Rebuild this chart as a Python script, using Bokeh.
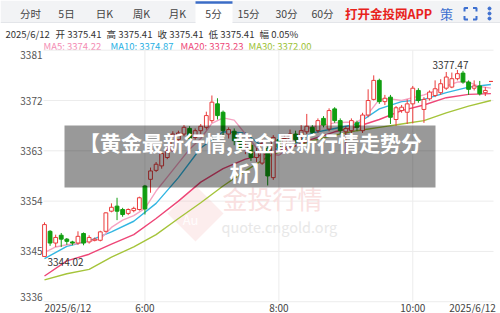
from bokeh.plotting import figure
from bokeh.models import Range1d, ColumnDataSource
from bokeh.core.properties import value
from bokeh.embed import file_html
from bokeh.resources import INLINE

FONT = "Noto Sans CJK SC"

# ---------------- data ----------------
opens = [3344.10, 3348.60, 3346.50, 3347.90, 3347.20, 3346.70, 3346.50, 3348.20, 3346.70, 3347.00,
         3347.00, 3348.60, 3352.20, 3353.10, 3352.50, 3351.80, 3352.30, 3352.50, 3356.70, 3357.90,
         3359.50, 3360.30, 3361.80, 3363.00, 3365.00, 3366.00, 3367.00, 3365.40, 3366.60, 3367.20,
         3368.40, 3371.40, 3369.90, 3366.00, 3366.50, 3365.00, 3363.20, 3364.00, 3361.80, 3360.80,
         3363.40, 3358.20, 3365.00, 3363.60, 3365.00, 3366.00, 3365.60, 3366.40, 3367.20, 3366.60,
         3368.80, 3366.90, 3370.50, 3368.40, 3366.40, 3366.60, 3368.00, 3366.60, 3369.40, 3372.20,
         3375.60, 3371.80, 3372.60, 3368.60, 3370.20, 3369.90, 3371.40, 3373.80, 3370.40, 3372.30,
         3372.90, 3373.40, 3374.20, 3374.40, 3375.90, 3376.90, 3375.30, 3374.20, 3374.60, 3373.40,
         3375.41]
highs = [3350.20, 3348.80, 3348.00, 3348.30, 3347.40, 3346.90, 3348.60, 3348.40, 3347.90, 3347.50,
         3348.70, 3352.00, 3353.60, 3354.60, 3352.80, 3352.70, 3353.00, 3354.80, 3356.90, 3360.00,
         3361.00, 3362.80, 3364.00, 3366.50, 3366.60, 3367.60, 3367.40, 3367.00, 3367.80, 3370.00,
         3372.90, 3372.40, 3370.20, 3367.20, 3367.00, 3365.60, 3364.60, 3364.50, 3363.50, 3365.00,
         3364.00, 3365.80, 3366.00, 3365.80, 3366.80, 3366.60, 3367.60, 3369.60, 3367.60, 3368.80,
         3369.20, 3370.60, 3370.80, 3368.80, 3367.40, 3368.80, 3368.40, 3369.80, 3374.00, 3376.50,
         3375.90, 3373.00, 3373.00, 3371.00, 3371.20, 3372.20, 3374.60, 3374.20, 3372.60, 3373.80,
         3375.60, 3375.80, 3377.10, 3377.00, 3377.47, 3377.30, 3375.60, 3375.60, 3375.50, 3374.40,
         3375.41]
lows = [3344.02, 3346.00, 3345.80, 3345.80, 3346.20, 3346.10, 3346.20, 3346.10, 3346.40, 3346.80,
        3346.80, 3348.40, 3352.00, 3350.60, 3351.20, 3351.50, 3352.00, 3352.30, 3351.60, 3355.50,
        3359.20, 3359.80, 3361.50, 3362.80, 3364.60, 3365.60, 3364.80, 3365.00, 3366.00, 3366.80,
        3368.00, 3368.60, 3365.50, 3365.20, 3364.00, 3362.60, 3362.40, 3361.20, 3361.00, 3360.50,
        3356.80, 3357.80, 3363.00, 3363.00, 3364.50, 3364.40, 3364.80, 3366.00, 3365.80, 3366.20,
        3367.20, 3366.50, 3368.00, 3366.00, 3362.50, 3366.20, 3366.60, 3366.20, 3369.00, 3372.00,
        3371.40, 3371.20, 3367.80, 3367.50, 3369.80, 3367.80, 3367.90, 3371.60, 3368.00, 3372.00,
        3372.60, 3373.00, 3373.90, 3374.20, 3375.60, 3375.00, 3373.00, 3373.80, 3372.90, 3372.80,
        3375.41]
closes = [3349.80, 3346.50, 3347.50, 3347.20, 3346.80, 3346.50, 3347.70, 3346.50, 3347.50, 3347.20,
          3348.50, 3351.90, 3352.90, 3352.20, 3351.60, 3352.50, 3352.70, 3354.60, 3352.60, 3359.40,
          3360.60, 3362.50, 3363.00, 3366.00, 3366.20, 3367.20, 3365.20, 3366.60, 3367.40, 3369.30,
          3371.70, 3369.30, 3366.60, 3366.80, 3364.80, 3363.20, 3364.00, 3361.80, 3362.80, 3364.30,
          3358.50, 3365.40, 3363.60, 3365.20, 3366.00, 3365.00, 3366.60, 3367.40, 3366.30, 3368.40,
          3367.60, 3370.20, 3368.40, 3366.60, 3367.00, 3368.40, 3367.20, 3369.40, 3372.00, 3375.60,
          3371.80, 3372.40, 3369.00, 3370.70, 3370.80, 3371.40, 3374.20, 3372.00, 3372.20, 3373.50,
          3374.10, 3375.00, 3376.20, 3375.90, 3376.80, 3375.30, 3374.00, 3374.60, 3373.20, 3373.80,
          3375.41]

ma5_idx = list(range(0, 81, 2))
ma5 = [3344.8, 3345.8, 3346.2, 3346.4, 3346.8, 3347.2, 3349.3, 3350.6, 3351.4, 3352.7,
       3355.8, 3358.3, 3360.8, 3363.3, 3365.2, 3367.9, 3368.9, 3368.5, 3366.0, 3363.5,
       3362.5, 3362.2, 3363.6, 3366.5, 3367.3, 3367.6, 3368.0, 3368.1, 3368.1, 3369.6,
       3372.2, 3372.3, 3372.0, 3372.5, 3373.0, 3373.7, 3374.6, 3375.3, 3375.3, 3374.5,
       3374.22]
ma_idx = list(range(0, 81, 4))
ma10 = [3343.7, 3345.9, 3346.9, 3348.5, 3350.4, 3353.6, 3358.2, 3363.5, 3366.4, 3366.2,
        3363.0, 3363.8, 3366.2, 3367.0, 3367.8, 3370.5, 3371.8, 3372.2, 3373.4, 3374.4, 3374.87]
ma20 = [3340.6, 3343.3, 3344.5, 3346.3, 3348.0, 3350.9, 3354.0, 3357.4, 3359.8, 3361.5,
        3362.5, 3363.5, 3365.1, 3366.4, 3367.3, 3368.6, 3370.2, 3371.2, 3372.5, 3373.1, 3373.23]
ma30 = [3339.9, 3341.0, 3341.8, 3344.0, 3345.8, 3348.0, 3350.9, 3353.7, 3356.7, 3359.4,
        3361.9, 3363.6, 3364.8, 3365.8, 3366.6, 3367.2, 3367.8, 3368.4, 3369.8, 3371.0, 3372.0]

y_ticks = [3336, 3345, 3354, 3363, 3372, 3381]
x_tick_idx = [0, 18, 42, 66, 80]
x_tick_labels = ["2025/6/12", "6:00", "8:00", "10:00", "2025/6/12"]

tabs = ["分时", "5日", "日K", "周K", "月K", "5分", "15分", "30分", "60分"]
selected_tab = "5分"
app_text = "打开金投网APP"
info_date = "2025/6/12"
info_items = ["开 3375.41", "高 3375.41", "收 3375.41", "低 3375.41", "幅 0.05%"]
ma_names = ["MA5", "MA10", "MA20", "MA30"]
ma_last = ["3374.22", "3374.87", "3373.23", "3372.00"]
title_lines = ["【黄金最新行情,黄金最新行情走势分", "析】"]

# ---------------- styles / layout ----------------
W, H = 500, 313
RED, GREEN = "#eb3b3b", "#109e10"
MA_COLORS = ["#f6a3c3", "#33b6e2", "#ee4677", "#a5c43a"]
MA_TEXT_COLORS = ["#f48db4", "#27b0e4", "#ee4677", "#9cc236"]
GRID = "#ececec"

PX0, STEP = 44.0, 5.58           # screen x of first candle, px per candle
PY_REF, PRICE_REF, PPU = 100.0, 3372.0, 5.59
X_LEFT, X_RIGHT = 43, 493

p = figure(width=W, height=H, x_range=Range1d(0, W), y_range=Range1d(H, 0),
           x_axis_type=None, y_axis_type=None, toolbar_location=None,
           output_backend="svg", min_border=0)
p.outline_line_color = None
p.background_fill_color = "white"
p.border_fill_color = "white"
p.extra_x_ranges = {"idx": Range1d(-PX0 / STEP, (W - PX0) / STEP)}
p.extra_y_ranges = {"price": Range1d(PRICE_REF - (H - PY_REF) / PPU, PRICE_REF + PY_REF / PPU)}

# ---------------- header ----------------
p.quad(left=0, right=W, top=0, bottom=22, fill_color="#f2f3f5", line_color=None)
tab_x = [30, 66, 104, 141, 177, 213, 248, 286, 322]
sel = tabs.index(selected_tab)
p.quad(left=tab_x[sel] - 18, right=tab_x[sel] + 19, top=0, bottom=23, fill_color="white", line_color=None)
p.segment(x0=tab_x[sel] - 18, x1=tab_x[sel] + 19, y0=2, y1=2, line_color="#3b6cc6", line_width=2.5)
p.segment(x0=[0, tab_x[sel] + 19], x1=[tab_x[sel] - 18, W], y0=22, y1=22, line_color="#e3e5e9", line_width=1)
p.text(x=tab_x, y=13, text=tabs, text_font=value(FONT), text_font_size="10.5px",
       text_color="#444444", text_align="center", text_baseline="middle")
p.text(x=[388], y=[13], text=[app_text], text_font=value(FONT), text_font_size="12.5px",
       text_font_style="bold", text_color="#e8231c", text_align="center", text_baseline="middle")
p.text(x=[446], y=[13], text=["策"], text_font=value(FONT), text_font_size="13px",
       text_color="#3d6fd0", text_align="center", text_baseline="middle")
fx0, fx1, fy0, fy1, c = 464, 476, 7.5, 19, 3.5
p.multi_line(xs=[[fx0, fx0, fx0 + c], [fx1 - c, fx1, fx1], [fx0, fx0, fx0 + c], [fx1 - c, fx1, fx1]],
             ys=[[fy0 + c, fy0, fy0], [fy0, fy0, fy0 + c], [fy1 - c, fy1, fy1], [fy1, fy1, fy1 - c]],
             line_color="#3d6fd0", line_width=2)
p.scatter(x=[489, 489, 489], y=[8, 13, 18], size=3, color="#3d6fd0")

info_x = [5, 55, 106, 157, 208, 259]
p.text(x=info_x, y=33, text=[info_date] + info_items, text_font=value(FONT), text_font_size="9.5px",
       text_color="#333333", text_align="left", text_baseline="middle")
ma_text_x = [43, 110, 180, 248]
p.text(x=ma_text_x, y=45, text=[f"{n}: {v}" for n, v in zip(ma_names, ma_last)],
       text_color=MA_TEXT_COLORS, text_font=value(FONT), text_font_size="9.5px",
       text_align="left", text_baseline="middle")

# ---------------- grid & axis labels ----------------
p.segment(x0=X_LEFT, x1=X_RIGHT, y0=y_ticks, y1=y_ticks, y_range_name="price",
          line_color=GRID, line_width=1)
p.segment(x0=x_tick_idx[1:4], x1=x_tick_idx[1:4], y0=y_ticks[0], y1=y_ticks[-1],
          x_range_name="idx", y_range_name="price", line_color=GRID, line_width=1)
p.text(x=42, y=y_ticks[1:-1], text=[str(t) for t in y_ticks[1:-1]], y_range_name="price",
       text_font=value(FONT), text_font_size="10px", text_color="#555555",
       text_align="right", text_baseline="middle")
p.text(x=42, y=[y_ticks[-1]], text=[str(y_ticks[-1])], y_range_name="price",
       text_font=value(FONT), text_font_size="10px", text_color="#555555",
       text_align="right", text_baseline="top", y_offset=1)
p.text(x=42, y=[y_ticks[0]], text=[str(y_ticks[0])], y_range_name="price",
       text_font=value(FONT), text_font_size="10px", text_color="#555555",
       text_align="right", text_baseline="bottom", y_offset=-1)
aligns = ["left", "center", "center", "center", "right"]
offs = [0, 0, 0, 0, 5]
for xi, lab, al, of in zip(x_tick_idx, x_tick_labels, aligns, offs):
    p.text(x=[xi], y=[306.5], text=[lab], x_range_name="idx", x_offset=of,
           text_font=value(FONT), text_font_size="10px", text_color="#444444",
           text_align=al, text_baseline="middle")

# ---------------- watermark ----------------
p.patch(x=[195, 223, 195, 167], y=[185, 213, 241, 213], fill_color="#f4c4c4",
        fill_alpha=0.3, line_color=None)
p.text(x=[190], y=[219], text=["Au"], text_font=value(FONT), text_font_size="13px",
       text_color="#ffffff", text_alpha=0.9, text_align="center", text_baseline="middle")
p.text(x=[222], y=[197], text=["金投行情"], text_font=value(FONT), text_font_size="25px",
       text_color="#f9e0e0", text_align="left", text_baseline="middle")
p.text(x=[221], y=[226], text=["quote.cngold.org"], text_font=value(FONT), text_font_size="14.5px",
       text_color="#e8e8e8", text_align="left", text_baseline="middle")

# ---------------- MA lines ----------------
p.line(ma_idx, ma30, x_range_name="idx", y_range_name="price", line_color=MA_COLORS[3], line_width=1.4)
p.line(ma_idx, ma20, x_range_name="idx", y_range_name="price", line_color=MA_COLORS[2], line_width=1.4)
p.line(ma_idx, ma10, x_range_name="idx", y_range_name="price", line_color=MA_COLORS[1], line_width=1.4)
p.line(ma5_idx, ma5, x_range_name="idx", y_range_name="price", line_color=MA_COLORS[0], line_width=1.4)

# ---------------- candles ----------------
idx = list(range(len(closes)))
up = [c >= o for o, c in zip(opens, closes)]
src = ColumnDataSource(dict(
    x=idx, o=opens, h=highs, l=lows, c=closes,
    top=[max(o, c) for o, c in zip(opens, closes)],
    bot=[min(o, c) for o, c in zip(opens, closes)],
    col=[RED if u else GREEN for u in up],
    fill=["white" if u else GREEN for u in up],
))
p.segment(x0="x", x1="x", y0="h", y1="l", source=src, x_range_name="idx", y_range_name="price",
          line_color="col", line_width=1)
p.vbar(x="x", width=0.68, top="top", bottom="bot", source=src, x_range_name="idx",
       y_range_name="price", fill_color="fill", line_color="col", line_width=1)

hi_i = max(idx, key=lambda i: highs[i])
lo_i = min(idx, key=lambda i: lows[i])
p.text(x=[hi_i], y=[highs[hi_i]], text=[f"{highs[hi_i]:.2f}"], x_range_name="idx", y_range_name="price",
       x_offset=-7, y_offset=-1, text_font=value(FONT), text_font_size="10px", text_color="#333333",
       text_align="center", text_baseline="bottom")
p.text(x=[lo_i], y=[lows[lo_i]], text=[f"{lows[lo_i]:.2f}"], x_range_name="idx", y_range_name="price",
       x_offset=3, y_offset=1, text_font=value(FONT), text_font_size="10px", text_color="#333333",
       text_align="left", text_baseline="top")

# ---------------- title overlay ----------------
p.quad(left=64, right=435, top=125, bottom=187, fill_color="black", fill_alpha=0.4, line_color=None)
p.text(x=250, y=[141, 171], text=title_lines, text_font=value(FONT), text_font_size="21px",
       text_font_style="bold", text_color="white", text_align="center", text_baseline="middle")

open("out.html", "w").write(file_html(p, INLINE))
